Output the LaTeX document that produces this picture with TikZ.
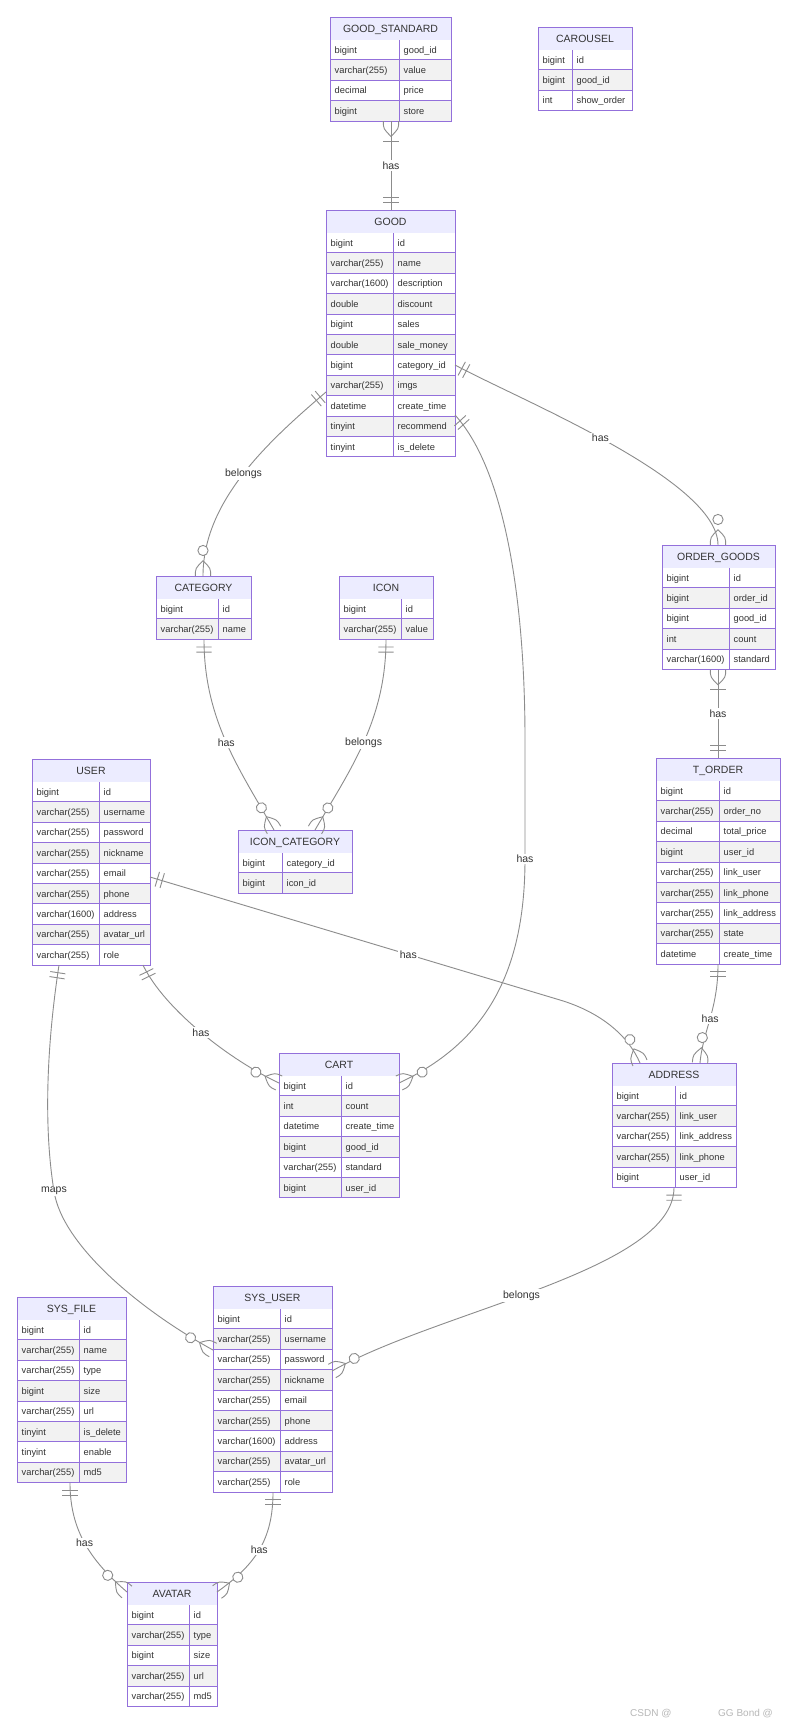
\documentclass[tikz,border=0pt]{standalone}
\usepackage{fontspec}
\setmainfont{Liberation Sans}
\usetikzlibrary{calc,decorations.markings}

\definecolor{erpurple}{HTML}{9370DB}
\definecolor{erhead}{HTML}{ECECFF}
\definecolor{rowgray}{HTML}{F2F2F2}
\definecolor{relgray}{HTML}{8C8C8C}
\definecolor{ertext}{HTML}{333333}

\def\hh{22.5}
\def\rh{20.4}

% relationship end marks (x points away from the table)
\newcommand{\mkcrow}{\draw[relline] (0,7.65) .. controls (7.65,7.65) .. (15.3,0) .. controls (7.65,-7.65) .. (0,-7.65);}
\newcommand{\mkone}{\draw[relline] (7.65,-7.65) -- (7.65,7.65) (12.75,-7.65) -- (12.75,7.65);}
\newcommand{\mkonemany}{\mkcrow\draw[relline] (20.4,-7.65) -- (20.4,7.65);}
\newcommand{\mkzeromany}{\mkcrow\draw[relline, fill=white] (25.5,0) circle[radius=5.1pt];}

% entity table: id, top left, type column, name column, title, rows
\newcommand{\ertable}[6]{%
  \begin{scope}[shift={#2}]
    \foreach \ty/\nm [count=\i] in {#6} {
      \pgfmathsetmacro{\rowy}{\hh+(\i-1)*\rh}
      \ifodd\i\relax\def\rowfill{white}\else\def\rowfill{rowgray}\fi
      \fill[\rowfill] (0,\rowy) rectangle ++(#3+#4,\rh);
      \draw[cellbox] (0,\rowy) -- ++(#3+#4,0) (#3,\rowy) -- ++(0,\rh);
      \node[attrtext] (#1-t\i) at (4.5,\rowy+\rh/2+3.3) {\ty};
      \node[attrtext] (#1-n\i) at (#3+4.5,\rowy+\rh/2+3.3) {\nm};
      \xdef\nrows{\i}
    }
    \fill[erhead] (0,0) rectangle (#3+#4,\hh);
    \node[headtext] (#1-head) at ({(#3+#4)/2},\hh/2+3.8) {#5};
    \node[cellbox, minimum width=#3+#4, minimum height=\hh+\nrows*\rh, anchor=north west] (#1) at (0,0) {};
  \end{scope}}

\begin{document}
\begin{tikzpicture}[
    x=1pt, y=-1pt,
    relline/.style={draw=relgray, line width=0.9pt},
    cellbox/.style={draw=erpurple, line width=0.9pt, inner sep=0pt, outer sep=0pt},
    headtext/.style={font=\fontsize{10.5}{12}\selectfont, text=ertext, inner sep=0pt, anchor=base},
    attrtext/.style={font=\fontsize{9.3}{11}\selectfont, text=ertext, inner sep=0pt, anchor=base west},
    rellabel/.style={font=\fontsize{10.5}{12}\selectfont, text=ertext, fill=white, inner sep=1.5pt},
    wmark/.style={font=\fontsize{10}{12}\selectfont, text=black!28, inner sep=0pt, anchor=base west},
    from one/.style={postaction={decorate, decoration={markings, mark=at position 0 with {\mkone}}}},
    from onemany/.style={postaction={decorate, decoration={markings, mark=at position 0 with {\mkonemany}}}},
    to one/.style={postaction={decorate, decoration={markings, mark=at position 0.9999 with {\begin{scope}[xscale=-1]\mkone\end{scope}}}}},
    to zeromany/.style={postaction={decorate, decoration={markings, mark=at position 0.9999 with {\begin{scope}[xscale=-1]\mkzeromany\end{scope}}}}}
  ]
  \fill[white] (0,0) rectangle (797,1724);
  \useasboundingbox (0,0) rectangle (797,1724);

  \ertable{gstd}{(330,17)}{69}{52}{GOOD\_STANDARD}{bigint/good\_id, varchar(255)/value, decimal/price, bigint/store}
  \ertable{carousel}{(538,27)}{34}{60}{CAROUSEL}{bigint/id, bigint/good\_id, int/show\_order}
  \ertable{good}{(326,210)}{67}{62}{GOOD}{bigint/id, varchar(255)/name, varchar(1600)/description, double/discount, bigint/sales, double/sale\_money, bigint/category\_id, varchar(255)/imgs, datetime/create\_time, tinyint/recommend, tinyint/is\_delete}
  \ertable{category}{(156,576)}{62}{33}{CATEGORY}{bigint/id, varchar(255)/name}
  \ertable{icon}{(339,576)}{62}{32}{ICON}{bigint/id, varchar(255)/value}
  \ertable{iconcat}{(238,830)}{44}{70}{ICON\_CATEGORY}{bigint/category\_id, bigint/icon\_id}
  \ertable{ordergoods}{(662,545)}{67}{46}{ORDER\_GOODS}{bigint/id, bigint/order\_id, bigint/good\_id, int/count, varchar(1600)/standard}
  \ertable{torder}{(656,758)}{63}{61}{T\_ORDER}{bigint/id, varchar(255)/order\_no, decimal/total\_price, bigint/user\_id, varchar(255)/link\_user, varchar(255)/link\_phone, varchar(255)/link\_address, varchar(255)/state, datetime/create\_time}
  \ertable{user}{(32,759)}{67}{51}{USER}{bigint/id, varchar(255)/username, varchar(255)/password, varchar(255)/nickname, varchar(255)/email, varchar(255)/phone, varchar(1600)/address, varchar(255)/avatar\_url, varchar(255)/role}
  \ertable{cart}{(279,1053)}{62}{58}{CART}{bigint/id, int/count, datetime/create\_time, bigint/good\_id, varchar(255)/standard, bigint/user\_id}
  \ertable{address}{(612,1063)}{63}{61}{ADDRESS}{bigint/id, varchar(255)/link\_user, varchar(255)/link\_address, varchar(255)/link\_phone, bigint/user\_id}
  \ertable{sysfile}{(17,1297)}{62}{47}{SYS\_FILE}{bigint/id, varchar(255)/name, varchar(255)/type, bigint/size, varchar(255)/url, tinyint/is\_delete, tinyint/enable, varchar(255)/md5}
  \ertable{sysuser}{(213,1286)}{67}{52}{SYS\_USER}{bigint/id, varchar(255)/username, varchar(255)/password, varchar(255)/nickname, varchar(255)/email, varchar(255)/phone, varchar(1600)/address, varchar(255)/avatar\_url, varchar(255)/role}
  \ertable{avatar}{(127,1582)}{62}{28}{AVATAR}{bigint/id, varchar(255)/type, bigint/size, varchar(255)/url, varchar(255)/md5}

  \draw[relline, from onemany, to one] ($(gstd.south west)+(61,0)$) -- node[rellabel] (gstd-good) {has} ($(good.north west)+(65,0)$);
  \draw[relline, from one, to zeromany] ($(good.north west)+(0,182)$) .. controls (270,440) and (203,500) .. node[rellabel] (good-cat) {belongs} ($(category.north west)+(47,0)$);
  \draw[relline, from one, to zeromany] ($(good.north east)+(0,155)$) .. controls (520,400) and (718,480) .. node[rellabel, pos=0.47] (good-og) {has} ($(ordergoods.north west)+(56,0)$);
  \draw[relline, from one, to zeromany] ($(good.north east)+(0,205)$) .. controls (505,470) and (525,600) .. (525,740) -- (525,859) node[rellabel] (good-cart) {has} .. controls (525,980) and (480,1045) .. ($(cart.north east)+(0,30)$);
  \draw[relline, from one, to zeromany] ($(category.south west)+(48,0)$) .. controls (204,720) and (240,770) .. node[rellabel] (cat-ic) {has} ($(iconcat.north west)+(36,0)$);
  \draw[relline, from one, to zeromany] ($(icon.south west)+(47,0)$) .. controls (386,720) and (350,770) .. node[rellabel] (icon-ic) {belongs} ($(iconcat.north west)+(77,0)$);
  \draw[relline, from onemany, to one] ($(ordergoods.south west)+(56,0)$) -- node[rellabel] (og-order) {has} ($(torder.north west)+(62,0)$);
  \draw[relline, from one, to zeromany] ($(torder.south west)+(62,0)$) .. controls (718,1010) and (703,1030) .. node[rellabel] (order-addr) {has} ($(address.north west)+(88,0)$);
  \draw[relline, from one, to zeromany] ($(user.north east)+(0,118)$) -- node[rellabel, pos=0.63] (user-addr) {has} (560,1000) .. controls (600,1012) and (628,1035) .. ($(address.north west)+(28,0)$);
  \draw[relline, from one, to zeromany] ($(user.south west)+(111,0)$) .. controls (165,1010) and (230,1060) .. node[rellabel] (user-cart) {has} ($(cart.north west)+(0,30)$);
  \draw[relline, from one, to zeromany] ($(user.south west)+(27,0)$) .. controls (46,1050) and (44,1130) .. (54,1191) node[rellabel] (user-sys) {maps} .. controls (62,1245) and (140,1310) .. ($(sysuser.north west)+(0,64)$);
  \draw[relline, from one, to zeromany] ($(address.south west)+(62,0)$) .. controls (674,1270) and (440,1310) .. node[rellabel, pos=0.55] (addr-sys) {belongs} ($(sysuser.north east)+(0,85)$);
  \draw[relline, from one, to zeromany] ($(sysfile.south west)+(53,0)$) .. controls (70,1530) and (90,1560) .. node[rellabel] (file-av) {has} ($(avatar.north west)+(0,10)$);
  \draw[relline, from one, to zeromany] ($(sysuser.south west)+(60,0)$) .. controls (273,1540) and (255,1565) .. node[rellabel] (sys-av) {has} ($(avatar.north east)+(0,10)$);

  \node[wmark] (wm-csdn) at (630,1716) {CSDN @};
  \node[wmark] (wm-author) at (718,1716) {GG Bond @};
\end{tikzpicture}
\end{document}
